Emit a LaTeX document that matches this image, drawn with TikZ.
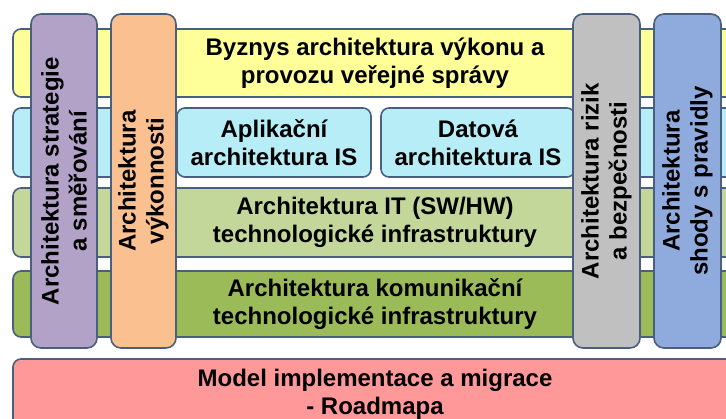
\documentclass[tikz,border=0pt]{standalone}
\usepackage{fontspec}
\setmainfont{Liberation Sans}
\usetikzlibrary{positioning}

\definecolor{rim}{HTML}{4A5F7E}
\definecolor{bizyellow}{HTML}{FFFF99}
\definecolor{iscyan}{HTML}{B6EDF6}
\definecolor{itgreen}{HTML}{C4D79B}
\definecolor{comgreen}{HTML}{9BBB59}
\definecolor{roadpink}{HTML}{FF9999}
\definecolor{stratpurple}{HTML}{B3A2C7}
\definecolor{perforange}{HTML}{FAC090}
\definecolor{riskgray}{HTML}{C0C0C0}
\definecolor{shodablue}{HTML}{8FAADC}

\begin{document}
\begin{tikzpicture}[x=1pt,y=-1pt,
  layer/.style={draw=rim,line width=1.6pt,rounded corners=8pt,
    minimum width=724pt,align=center,inner sep=0pt,
    font=\fontsize{24}{28}\selectfont\bfseries},
  inner/.style={layer,minimum width=194pt,minimum height=69pt},
  pillar/.style={layer,rotate=90,rounded corners=10pt,
    minimum width=334pt,minimum height=66pt}]

  \useasboundingbox (0,0) rectangle (726,419);
  \clip (0,0) rectangle (726,419);

  % horizontal layers
  \node[layer,fill=bizyellow,minimum height=68pt]  (biz)  at (375,63)    {Byznys architektura výkonu a\\provozu veřejné správy};
  \node[layer,fill=iscyan,minimum height=69pt]     (is)   at (375,142.5) {};
  \fill[white] (177,105) rectangle (573,180);
  \node[inner,fill=iscyan]                         (app)  at (274,142.5) {Aplikační\\architektura IS};
  \node[inner,fill=iscyan]                         (data) at (478,142.5) {Datová\\architektura IS};
  \node[layer,fill=itgreen,minimum height=69pt]    (it)   at (375,222.5) {Architektura IT (SW/HW)\\technologické infrastruktury};
  \node[layer,fill=comgreen,minimum height=66pt]   (com)  at (375,304)   {Architektura komunikační\\technologické infrastruktury};
  \node[layer,fill=roadpink,minimum height=71pt]   (road) at (375,394.5) {Model implementace a migrace\\- Roadmapa};

  % vertical pillars
  \node[pillar,fill=stratpurple]                   (strat) at (64,181)    {Architektura strategie\\a směřování};
  \node[pillar,fill=perforange,minimum height=65pt] (perf) at (143.5,181) {Architektura\\výkonnosti};
  \node[pillar,fill=riskgray,minimum height=67pt]  (risk)  at (606.5,181) {Architektura rizik\\a bezpečnosti};
  \node[pillar,fill=shodablue,minimum height=67pt] (shoda) at (687.5,181) {Architektura\\shody s pravidly};
\end{tikzpicture}
\end{document}
